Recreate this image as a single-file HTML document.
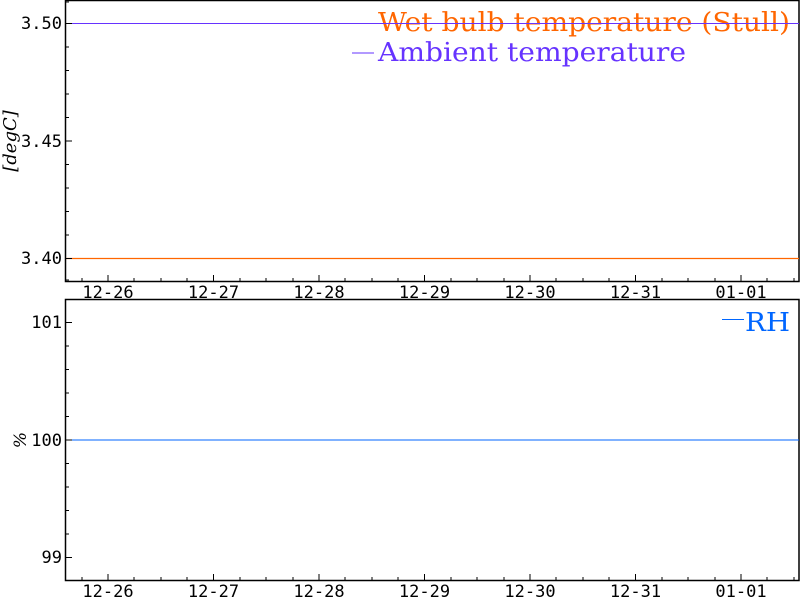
<!DOCTYPE html>
<html><head><meta charset="utf-8"><style>html,body{margin:0;padding:0;background:#fff;width:800px;height:600px;overflow:hidden}</style></head>
<body>
<svg width="800" height="600" xmlns="http://www.w3.org/2000/svg" font-family="DejaVu Sans Mono, Liberation Mono, monospace">
<rect width="800" height="600" fill="#fff"/>
<g font-family="DejaVu Serif, Liberation Serif, serif" font-size="26">
<text x="378" y="31" fill="#ff6600" textLength="412" lengthAdjust="spacingAndGlyphs">Wet bulb temperature (Stull)</text>
<text x="378" y="61" fill="#6633ff" textLength="308" lengthAdjust="spacingAndGlyphs">Ambient temperature</text>
</g>
<line x1="352" y1="23.5" x2="374" y2="23.5" stroke="#ff6600"/>
<line x1="352" y1="53" x2="374" y2="53" stroke="#6633ff"/>
<rect x="65.5" y="0.5" width="733.5" height="281" fill="none" stroke="#000" stroke-width="1.5"/>
<line x1="66" y1="23.5" x2="799" y2="23.5" stroke="#6633ff" stroke-width="1"/>
<line x1="66" y1="258.5" x2="799" y2="258.5" stroke="#ff6600" stroke-width="1.2"/>
<g stroke="#000" stroke-width="1">
<line x1="66" y1="23.5" x2="72" y2="23.5"/><line x1="66" y1="141" x2="72" y2="141"/><line x1="66" y1="258.5" x2="72" y2="258.5"/>
<line x1="66" y1="47" x2="69" y2="47"/><line x1="66" y1="70.5" x2="69" y2="70.5"/><line x1="66" y1="94" x2="69" y2="94"/><line x1="66" y1="117.5" x2="69" y2="117.5"/>
<line x1="66" y1="164.5" x2="69" y2="164.5"/><line x1="66" y1="188" x2="69" y2="188"/><line x1="66" y1="211.5" x2="69" y2="211.5"/><line x1="66" y1="235" x2="69" y2="235"/>
<line x1="66" y1="2" x2="69" y2="2"/><line x1="66" y1="280" x2="69" y2="280"/>
</g>
<g font-size="17" text-anchor="end" fill="#000">
<text x="62" y="29">3.50</text><text x="62" y="147">3.45</text><text x="62" y="264">3.40</text>
</g>
<text transform="translate(16,141) rotate(-90)" text-anchor="middle" font-family="DejaVu Serif, serif" font-style="italic" font-size="18">[degC]</text>
<rect x="65.5" y="299.5" width="733.5" height="281" fill="none" stroke="#000" stroke-width="1.5"/>
<text x="745" y="331" font-family="DejaVu Serif, Liberation Serif, serif" font-size="26" fill="#0066ff" textLength="45" lengthAdjust="spacingAndGlyphs">RH</text>
<line x1="722" y1="319.5" x2="744" y2="319.5" stroke="#0066ff"/>
<line x1="66" y1="440" x2="799" y2="440" stroke="#0066ff" stroke-width="1"/>
<g stroke="#000" stroke-width="1">
<line x1="66" y1="322.5" x2="72" y2="322.5"/><line x1="66" y1="440" x2="72" y2="440"/><line x1="66" y1="557.5" x2="72" y2="557.5"/>
<line x1="66" y1="346" x2="69" y2="346"/><line x1="66" y1="369.5" x2="69" y2="369.5"/><line x1="66" y1="393" x2="69" y2="393"/><line x1="66" y1="416.5" x2="69" y2="416.5"/>
<line x1="66" y1="463.5" x2="69" y2="463.5"/><line x1="66" y1="487" x2="69" y2="487"/><line x1="66" y1="510.5" x2="69" y2="510.5"/><line x1="66" y1="534" x2="69" y2="534"/>
</g>
<g font-size="17" text-anchor="end" fill="#000">
<text x="62" y="328">101</text><text x="62" y="446">100</text><text x="62" y="563">99</text>
</g>
<text transform="translate(26,440) rotate(-90)" text-anchor="middle" font-family="DejaVu Serif, serif" font-style="italic" font-size="17">%</text>
<g stroke="#000" stroke-width="1">
<path d="M82,281v-3M134,281v-3M161,281v-3M187,281v-3M240,281v-3M266,281v-3M293,281v-3M345,281v-3M372,281v-3M398,281v-3M451,281v-3M477,281v-3M504,281v-3M556,281v-3M583,281v-3M609,281v-3M662,281v-3M688,281v-3M715,281v-3M767,281v-3M794,281v-3"/>
<path d="M108,281v-6M213.5,281v-6M319,281v-6M424.5,281v-6M530,281v-6M635.5,281v-6M741,281v-6"/>
<path d="M82,580v-3M134,580v-3M161,580v-3M187,580v-3M240,580v-3M266,580v-3M293,580v-3M345,580v-3M372,580v-3M398,580v-3M451,580v-3M477,580v-3M504,580v-3M556,580v-3M583,580v-3M609,580v-3M662,580v-3M688,580v-3M715,580v-3M767,580v-3M794,580v-3"/>
<path d="M108,580v-6M213.5,580v-6M319,580v-6M424.5,580v-6M530,580v-6M635.5,580v-6M741,580v-6"/>
</g>
<g font-size="17" text-anchor="middle" fill="#000">
<text x="108" y="298">12-26</text><text x="213.5" y="298">12-27</text><text x="319" y="298">12-28</text><text x="424.5" y="298">12-29</text><text x="530" y="298">12-30</text><text x="635.5" y="298">12-31</text><text x="741" y="298">01-01</text>
<text x="108" y="597">12-26</text><text x="213.5" y="597">12-27</text><text x="319" y="597">12-28</text><text x="424.5" y="597">12-29</text><text x="530" y="597">12-30</text><text x="635.5" y="597">12-31</text><text x="741" y="597">01-01</text>
</g>
</svg>
</body></html>
